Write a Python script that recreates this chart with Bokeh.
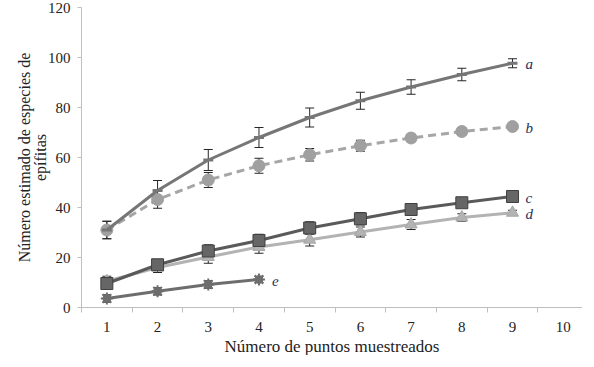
from bokeh.plotting import figure
from bokeh.models import ColumnDataSource, Whisker, FixedTicker, Range1d, Title
from bokeh.core.properties import value
from bokeh.embed import file_html
from bokeh.resources import INLINE

x_vals = [1, 2, 3, 4, 5, 6, 7, 8, 9]
a_vals = [31.0, 46.8, 59.0, 68.0, 76.0, 82.7, 88.2, 93.2, 97.7]
a_err = [3.5, 4.0, 4.2, 4.0, 3.8, 3.4, 2.9, 2.5, 1.8]
b_vals = [31.0, 43.2, 51.0, 56.7, 61.1, 64.7, 67.8, 70.4, 72.4]
b_err = [3.5, 3.5, 3.0, 3.0, 2.5, 2.2, 1.5, 1.5, 1.0]
c_vals = [9.6, 17.1, 22.6, 26.8, 31.8, 35.5, 39.2, 41.9, 44.4]
c_err = [2.0, 2.0, 2.5, 2.5, 2.5, 2.5, 2.0, 1.5, 1.0]
d_vals = [10.5, 16.0, 20.2, 24.2, 27.1, 30.2, 33.2, 36.0, 37.9]
d_err = [2.0, 2.0, 2.5, 2.5, 2.5, 2.0, 2.0, 1.5, 1.0]
e_x = [1, 2, 3, 4]
e_vals = [3.6, 6.5, 9.2, 11.2]
e_err = [1.5, 1.5, 1.5, 1.2]
series_labels = ["a", "b", "c", "d", "e"]
x_ticks = [1, 2, 3, 4, 5, 6, 7, 8, 9, 10]
y_ticks = [0, 20, 40, 60, 80, 100, 120]

FONT = "'Liberation Serif', 'Times New Roman', serif"
AX = "#bfbfbf"
TXT = "#222222"

p = figure(width=582, height=355, output_backend="svg", toolbar_location=None,
           x_range=Range1d(0.5, 10.38), y_range=Range1d(0, 120),
           min_border_left=81, min_border_right=0, min_border_top=7, min_border_bottom=0)
p.outline_line_color = None
p.grid.visible = False

p.xaxis.ticker = FixedTicker(ticks=x_ticks, minor_ticks=[i + 0.5 for i in range(0, 10)])
p.xaxis.major_tick_line_color = None
p.xaxis.major_tick_out = 0
p.xaxis.major_tick_in = 0
p.xaxis.minor_tick_line_color = AX
p.xaxis.minor_tick_out = 5
p.xaxis.minor_tick_in = 0
p.xaxis.axis_line_color = AX
p.xaxis.major_label_text_font = FONT
p.xaxis.major_label_text_font_size = "15px"
p.xaxis.major_label_text_color = TXT
p.xaxis.major_label_standoff = 9

p.yaxis.ticker = FixedTicker(ticks=y_ticks)
p.yaxis.minor_tick_line_color = None
p.yaxis.major_tick_line_color = AX
p.yaxis.major_tick_out = 4
p.yaxis.major_tick_in = 0
p.yaxis.axis_line_color = AX
p.yaxis.major_label_text_font = FONT
p.yaxis.major_label_text_font_size = "15px"
p.yaxis.major_label_text_color = TXT
p.yaxis.major_label_standoff = 7

xt = Title(text="Número de puntos muestreados", align="center", text_font=FONT,
           text_font_size="17px", text_font_style="normal", text_color=TXT, standoff=0)
p.add_layout(xt, "below")

t2 = Title(text="epífitas", align="center", text_font=FONT, text_font_size="16px",
           text_font_style="normal", text_color=TXT, standoff=-8)
t1 = Title(text="Número estimado de especies de", align="center", text_font=FONT,
           text_font_size="16px", text_font_style="normal", text_color=TXT, standoff=2)
p.add_layout(t2, "left")
p.add_layout(t1, "left")

def whisk(xs, ys, errs):
    src = ColumnDataSource(dict(x=xs, lo=[y - e for y, e in zip(ys, errs)],
                                hi=[y + e for y, e in zip(ys, errs)]))
    w = Whisker(base="x", lower="lo", upper="hi", source=src,
                line_color="#262626", line_width=1)
    w.upper_head.size = 9
    w.lower_head.size = 9
    w.upper_head.line_color = "#262626"
    w.lower_head.line_color = "#262626"
    p.add_layout(w)

# e
p.line(e_x, e_vals, line_color="#6d6d6d", line_width=3)
whisk(e_x, e_vals, e_err)
p.scatter(e_x, e_vals, marker="circle", size=8, fill_color="#6d6d6d", line_color="#6d6d6d")
p.scatter(e_x, e_vals, marker="asterisk", size=12, line_color="#6d6d6d", line_width=2)

# d
p.line(x_vals, d_vals, line_color="#b3b3b3", line_width=3)
whisk(x_vals, d_vals, d_err)
p.scatter(x_vals, d_vals, marker="triangle", size=12, fill_color="#b3b3b3", line_color="#a6a6a6")

# c
p.line(x_vals, c_vals, line_color="#5a5a5a", line_width=3)
whisk(x_vals, c_vals, c_err)
p.scatter(x_vals, c_vals, marker="square", size=12, fill_color="#666666", line_color="#404040", line_width=1)

# b
p.line(x_vals, b_vals, line_color="#a6a6a6", line_width=3, line_dash="8 5")
whisk(x_vals, b_vals, b_err)
p.scatter(x_vals, b_vals, marker="circle", size=12, fill_color="#a0a0a0", line_color="#a0a0a0")

# a
p.line(x_vals, a_vals, line_color="#767676", line_width=3)
whisk(x_vals, a_vals, a_err)
p.scatter(x_vals, a_vals, marker="dash", size=10, line_color="#767676", line_width=3)

lab_x = [9, 9, 9, 9, 4]
lab_y = [a_vals[-1], b_vals[-1], c_vals[-1], d_vals[-1], e_vals[-1]]
p.text(x=lab_x, y=lab_y, text=series_labels, x_offset=13, y_offset=1,
       text_font=value(FONT), text_font_style="italic", text_font_size="15px",
       text_color="#1f2f5a", text_baseline="middle", text_align="left")

open("out.html", "w").write(file_html(p, INLINE))
